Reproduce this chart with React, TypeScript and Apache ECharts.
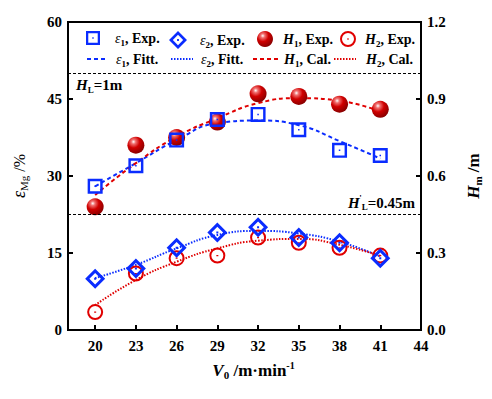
import React, { useEffect, useRef } from "react";
import * as echarts from "echarts";

const xValues = [20, 23, 26, 29, 32, 35, 38, 41];
const eps1Exp = [28, 32, 37, 41, 42, 39, 35, 34];
const eps2Exp = [10, 12, 16, 19, 20, 18, 17, 14];
const h1Exp = [0.48, 0.72, 0.75, 0.81, 0.92, 0.91, 0.88, 0.86];
const h2Exp = [0.07, 0.22, 0.28, 0.29, 0.36, 0.34, 0.32, 0.29];
const eps1Fit = [28.0, 32.5, 37.0, 40.3, 40.8, 39.9, 36.8, 33.4];
const eps2Fit = [10.1, 12.7, 15.9, 18.5, 19.3, 18.8, 17.2, 14.3];
const h1Cal = [0.526, 0.65, 0.753, 0.825, 0.884, 0.903, 0.893, 0.851];
const h2Cal = [0.097, 0.195, 0.266, 0.318, 0.348, 0.355, 0.332, 0.289];
const xTicks = [20, 23, 26, 29, 32, 35, 38, 41, 44];
const hLines = [1.0, 0.45];

const BLUE = "#0a2cff";
const RED = "#e00000";
const FONT = "Liberation Serif";

const SQUARE = "path://M0,0H16V16H0Z M2.6,2.6V13.4H13.4V2.6Z M7.2,7.2H8.8V8.8H7.2Z";
const DIAMOND = "path://M8,0L16,8L8,16L0,8Z M8,3.4L3.4,8L8,12.6L12.6,8Z M7.2,7.2H8.8V8.8H7.2Z";
const RING = "path://M8,0A8,8 0 1,1 8,16A8,8 0 1,1 8,0Z M8,2A6,6 0 1,0 8,14A6,6 0 1,0 8,2Z M7,7.4H9V8.6H7Z";

const pair = (ys: number[]) => xValues.map((x, i) => [x, ys[i]]);

const rich = {
  g: { fontFamily: FONT, fontSize: 14, fontStyle: "italic", fontWeight: "normal", color: "#000", lineHeight: 18 },
  h: { fontFamily: FONT, fontSize: 14, fontStyle: "italic", fontWeight: "bold", color: "#000", lineHeight: 18 },
  sub: { fontFamily: FONT, fontSize: 9, fontWeight: "bold", color: "#000", lineHeight: 9, verticalAlign: "bottom" },
  n: { fontFamily: FONT, fontSize: 14, fontWeight: "bold", color: "#000", lineHeight: 18 },
};

const annRich = {
  h: { fontFamily: FONT, fontSize: 15, fontStyle: "italic", fontWeight: "bold", color: "#000", lineHeight: 18 },
  sub: { fontFamily: FONT, fontSize: 9, fontWeight: "bold", color: "#000", lineHeight: 9, verticalAlign: "bottom" },
  p: { fontFamily: FONT, fontSize: 9, fontWeight: "bold", color: "#000", lineHeight: 9, verticalAlign: "top", width: 2 },
  n: { fontFamily: FONT, fontSize: 15, fontWeight: "bold", color: "#000", lineHeight: 18 },
};

const legendLabels: Record<string, string> = {
  e1exp: "{g|ε}{sub|1}{n|, Exp.}",
  e2exp: "{g|ε}{sub|2}{n|, Exp.}",
  h1exp: "{h|H}{sub|1}{n|, Exp.}",
  h2exp: "{h|H}{sub|2}{n|, Exp.}",
  e1fit: "{g|ε}{sub|1}{n|, Fitt.}",
  e2fit: "{g|ε}{sub|2}{n|, Fitt.}",
  h1cal: "{h|H}{sub|1}{n|, Cal.}",
  h2cal: "{h|H}{sub|2}{n|, Cal.}",
};

const legendSpecs = [
  { name: "e1exp", left: 86, top: 31, w: 14, h: 14, pad: 10, line: false },
  { name: "e2exp", left: 169, top: 31, w: 18, h: 18, pad: 8, line: false },
  { name: "h1exp", left: 257, top: 31, w: 16, h: 16, pad: 5, line: false },
  { name: "h2exp", left: 340, top: 31, w: 16, h: 16, pad: 4, line: false },
  { name: "e1fit", left: 86, top: 52, w: 21, h: 10, pad: 3, line: true },
  { name: "e2fit", left: 170, top: 52, w: 22, h: 10, pad: 3, line: true },
  { name: "h1cal", left: 252, top: 52, w: 26, h: 10, pad: 0, line: true },
  { name: "h2cal", left: 333, top: 52, w: 22, h: 10, pad: 5, line: true },
];

export default function App() {
  const ref = useRef<HTMLDivElement>(null);
  useEffect(() => {
    if (!ref.current) return;
    const chart = echarts.init(ref.current, undefined, { renderer: "svg" });
    const axisLabel = { fontFamily: FONT, fontSize: 15, fontWeight: "bold", color: "#000" };
    const option: any = {
      animation: false,
      backgroundColor: "#fff",
      grid: { left: 68, right: 71, top: 22, bottom: 69, show: true, borderColor: "#000", borderWidth: 2, backgroundColor: "transparent" },
      legend: legendSpecs.map((s) => ({
        data: [s.name],
        left: s.left,
        top: s.top,
        padding: 0,
        itemWidth: s.w,
        itemHeight: s.h,
        selectedMode: false,
        formatter: (name: string) => legendLabels[name],
        textStyle: { rich, padding: [0, 0, 0, s.pad] },
        ...(s.line ? { itemStyle: { opacity: 0, color: "transparent", borderColor: "transparent", borderWidth: 0 } } : {}),
      })),
      xAxis: {
        type: "value",
        min: 18,
        max: 44,
        name: "{h|V}{sub|0}{n| /m·min}{sup|-1}",
        nameLocation: "middle",
        nameGap: 30,
        nameTextStyle: {
          padding: [0, 0, 0, 18],
          rich: {
            h: { fontFamily: FONT, fontSize: 17, fontStyle: "italic", fontWeight: "bold", color: "#000", lineHeight: 20 },
            sub: { fontFamily: FONT, fontSize: 11, fontWeight: "bold", color: "#000", lineHeight: 10, verticalAlign: "bottom" },
            sup: { fontFamily: FONT, fontSize: 10, fontWeight: "bold", color: "#000", lineHeight: 10, verticalAlign: "top" },
            n: { fontFamily: FONT, fontSize: 17, fontWeight: "bold", color: "#000", lineHeight: 20 },
          },
        },
        axisLine: { lineStyle: { color: "#000", width: 2 } },
        axisTick: { inside: true, length: 5, lineStyle: { color: "#000", width: 2 }, customValues: xTicks },
        axisLabel: { ...axisLabel, margin: 8, customValues: xTicks },
        splitLine: { show: false },
      },
      yAxis: [
        {
          type: "value",
          min: 0,
          max: 60,
          interval: 15,
          name: "{g|ε}{sub|Mg}{n| /%}",
          nameLocation: "middle",
          nameRotate: 90,
          nameGap: 39,
          nameTextStyle: {
            rich: {
              g: { fontFamily: FONT, fontSize: 18, fontStyle: "italic", color: "#000", lineHeight: 20 },
              sub: { fontFamily: FONT, fontSize: 11, color: "#000", lineHeight: 10, verticalAlign: "bottom" },
              n: { fontFamily: FONT, fontSize: 16, color: "#000", lineHeight: 20 },
            },
          },
          axisLine: { show: true, lineStyle: { color: "#000", width: 2 } },
          axisTick: { show: true, inside: true, length: 5, lineStyle: { color: "#000", width: 2 } },
          axisLabel: { ...axisLabel, margin: 6 },
          splitLine: { show: false },
        },
        {
          type: "value",
          min: 0,
          max: 1.2,
          interval: 0.3,
          position: "right",
          name: "{h|H}{sub|m}{n| /m}",
          nameLocation: "middle",
          nameRotate: 90,
          nameGap: 42,
          nameTextStyle: {
            rich: {
              h: { fontFamily: FONT, fontSize: 17, fontStyle: "italic", fontWeight: "bold", color: "#000", lineHeight: 20 },
              sub: { fontFamily: FONT, fontSize: 11, fontWeight: "bold", color: "#000", lineHeight: 10, verticalAlign: "bottom" },
              n: { fontFamily: FONT, fontSize: 17, fontWeight: "bold", color: "#000", lineHeight: 20 },
            },
          },
          axisLine: { show: true, lineStyle: { color: "#000", width: 2 } },
          axisTick: { show: true, inside: true, length: 5, lineStyle: { color: "#000", width: 2 } },
          axisLabel: { ...axisLabel, margin: 6, formatter: (v: number) => v.toFixed(1) },
          splitLine: { show: false },
        },
      ],
      series: [
        {
          name: "e1fit", type: "line", yAxisIndex: 0, data: pair(eps1Fit), smooth: true, symbol: "none",
          lineStyle: { color: BLUE, width: 2, type: [4, 3] }, itemStyle: { color: BLUE }, z: 2,
        },
        {
          name: "e2fit", type: "line", yAxisIndex: 0, data: pair(eps2Fit), smooth: true, symbol: "none",
          lineStyle: { color: BLUE, width: 2, type: [1.5, 1.5] }, itemStyle: { color: BLUE }, z: 2,
        },
        {
          name: "h1cal", type: "line", yAxisIndex: 1, data: pair(h1Cal), smooth: true, symbol: "none",
          lineStyle: { color: RED, width: 2, type: [4, 3] }, itemStyle: { color: RED }, z: 2,
          markLine: {
            silent: true,
            symbol: "none",
            lineStyle: { color: "#000", width: 1, type: [3, 2] },
            data: [
              {
                yAxis: hLines[0],
                label: {
                  position: "insideStartBottom",
                  distance: [8, 3],
                  formatter: "{h|H}{sub|L}{n|=1m}",
                  rich: annRich,
                },
              },
              {
                yAxis: hLines[1],
                label: {
                  position: "insideEndTop",
                  distance: [6, 3],
                  formatter: "{h|H}{p|'}{sub|L}{n|=0.45m}",
                  rich: annRich,
                },
              },
            ],
          },
        },
        {
          name: "h2cal", type: "line", yAxisIndex: 1, data: pair(h2Cal), smooth: true, symbol: "none",
          lineStyle: { color: RED, width: 2, type: [1.5, 1.5] }, itemStyle: { color: RED }, z: 2,
        },
        {
          name: "e1exp", type: "scatter", yAxisIndex: 0, data: pair(eps1Exp), symbol: SQUARE, symbolSize: 15,
          itemStyle: { color: BLUE, opacity: 1 }, z: 4,
        },
        {
          name: "e2exp", type: "scatter", yAxisIndex: 0, data: pair(eps2Exp), symbol: DIAMOND, symbolSize: 20,
          itemStyle: { color: BLUE, opacity: 1 }, z: 4,
        },
        {
          name: "h1exp", type: "scatter", yAxisIndex: 1, data: pair(h1Exp), symbol: "circle", symbolSize: 17,
          itemStyle: {
            opacity: 1,
            color: new echarts.graphic.RadialGradient(0.36, 0.3, 0.72, [
              { offset: 0, color: "#ffffff" },
              { offset: 0.18, color: "#f07070" },
              { offset: 0.5, color: "#d00000" },
              { offset: 1, color: "#880000" },
            ]),
          },
          z: 3,
        },
        {
          name: "h2exp", type: "scatter", yAxisIndex: 1, data: pair(h2Exp), symbol: RING, symbolSize: 16,
          itemStyle: { color: RED, opacity: 1 }, z: 3,
        },
      ],
    };
    chart.setOption(option);
    return () => chart.dispose();
  }, []);
  return <div ref={ref} style={{ position: "fixed", left: 0, top: 0, width: 492, height: 399 }} />;
}
